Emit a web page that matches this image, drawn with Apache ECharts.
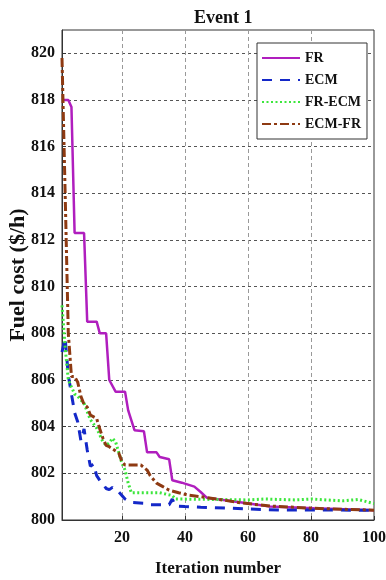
<!DOCTYPE html>
<html>
<head>
<meta charset="utf-8">
<script src="https://cdn.jsdelivr.net/npm/echarts@6/dist/echarts.min.js"></script>
<style>
  html, body { margin: 0; padding: 0; background: #fff; }
  #chart { width: 386px; height: 580px; }
</style>
</head>
<body>
<div id="chart"></div>
<script>
// [iteration, fuel cost]
var frData = [[1, 818.0], [3, 818.0], [4, 817.7], [5, 812.3], [8, 812.3], [9, 808.5], [12, 808.5],
    [13, 808.0], [15, 808.0], [16, 806.0], [18, 805.5], [21, 805.5], [22, 804.7], [24, 803.85],
    [27, 803.8], [28, 802.9], [31, 802.9], [32, 802.7], [35, 802.6], [36, 801.7], [39, 801.6],
    [43, 801.43], [45, 801.2], [47, 800.95], [58, 800.75], [67, 800.58], [81, 800.5], [100, 800.42]];

var ecmData = [[1, 807.2], [2, 807.8], [3, 806.2], [4, 805.4], [5, 804.6], [6, 804.2], [7, 803.4],
    [8, 803.9], [9, 803.0], [10, 802.3], [11, 802.4], [12, 801.9], [13, 801.7], [14, 801.55],
    [15, 801.35], [16, 801.3], [17, 801.4], [18, 801.3], [19, 801.2], [21, 800.9], [23, 800.75],
    [27, 800.72], [29, 800.65], [35, 800.65], [36, 800.9], [37, 800.6], [40, 800.58], [45, 800.55],
    [55, 800.5], [60, 800.47], [70, 800.43], [100, 800.42]];

var frEcmData = [[1, 809.2], [2, 807.4], [3, 806.0], [5, 805.4], [6, 805.3], [8, 805.0], [9, 804.64],
    [10, 804.3], [12, 803.94], [13, 803.64], [14, 803.35], [15, 803.2], [16, 803.3], [17, 803.5],
    [18, 803.35], [19, 802.9], [20, 802.44], [21, 802.14], [22, 801.58], [23, 801.17], [32, 801.17],
    [36, 801.05], [37, 800.9], [50, 800.88], [60, 800.86], [65, 800.9], [75, 800.86], [80, 800.9],
    [90, 800.82], [95, 800.88], [100, 800.7]];

var ecmFrData = [[1, 819.8], [2, 814.0], [3, 808.0], [4, 806.15], [5, 806.15], [6, 805.9], [7, 805.3],
    [8, 804.95], [9, 804.84], [10, 804.5], [12, 804.35], [13, 803.9], [14, 803.5], [15, 803.2],
    [16, 803.14], [19, 802.87], [20, 802.5], [21, 802.36], [26, 802.36], [28, 802.14], [29, 801.9],
    [31, 801.58], [33, 801.43], [35, 801.28], [38, 801.17], [41, 801.07], [45, 801.0], [50, 800.9],
    [58, 800.73], [67, 800.6], [81, 800.5], [100, 800.42]];

var seriesNames = ['FR', 'ECM', 'FR-ECM', 'ECM-FR'];
var xTicks = [20, 40, 60, 80, 100];
var yTicks = [800, 802, 804, 806, 808, 810, 812, 814, 816, 818, 820];

var serif = "'Liberation Serif', 'Times New Roman', serif";
var myChart = echarts.init(document.getElementById('chart'));

var option = {
    backgroundColor: '#fff',
    animation: false,
    title: {
        text: 'Event 1',
        left: 189,
        top: 4,
        textStyle: {fontFamily: serif, fontWeight: 'bold', fontSize: 18, color: '#111'}
    },
    legend: {
        data: seriesNames,
        orient: 'vertical',
        left: 257,
        top: 43,
        backgroundColor: '#fff',
        borderColor: '#333',
        borderWidth: 1,
        padding: [8, 6, 8, 4],
        itemWidth: 38,
        itemHeight: 14,
        itemGap: 8,
        itemStyle: {color: 'rgba(0,0,0,0)', borderWidth: 0, opacity: 0},
        textStyle: {fontFamily: serif, fontWeight: 'bold', fontSize: 14, color: '#111'}
    },
    grid: {
        left: 62, right: 12, top: 30, bottom: 60,
        outerBoundsMode: 'none',
        containLabel: false,
        show: true,
        borderColor: '#333',
        borderWidth: 1
    },
    xAxis: {
        type: 'value',
        min: 1,
        max: 100,
        name: 'Iteration number',
        nameLocation: 'middle',
        nameGap: 40,
        nameMoveOverlap: false,
        nameTextStyle: {fontFamily: serif, fontWeight: 'bold', fontSize: 17, color: '#111'},
        axisLine: {lineStyle: {color: '#333'}},
        axisTick: {inside: true, length: 4, customValues: xTicks, lineStyle: {color: '#333'}},
        axisLabel: {
            customValues: xTicks,
            margin: 10,
            fontFamily: serif, fontWeight: 'bold', fontSize: 16, color: '#111'
        },
        splitLine: {show: true, lineStyle: {color: '#999', type: [4, 3], width: 1}}
    },
    yAxis: {
        type: 'value',
        min: 800,
        max: 821,
        name: 'Fuel cost ($/h)',
        nameLocation: 'middle',
        nameGap: 33,
        nameMoveOverlap: false,
        nameTextStyle: {fontFamily: serif, fontWeight: 'bold', fontSize: 22, color: '#111'},
        axisLine: {show: true, lineStyle: {color: '#333'}},
        axisTick: {show: true, inside: true, length: 4, customValues: yTicks, lineStyle: {color: '#333'}},
        axisLabel: {
            customValues: yTicks,
            margin: 7,
            fontFamily: serif, fontWeight: 'bold', fontSize: 16, color: '#111'
        },
        splitLine: {show: true, lineStyle: {color: '#555', type: [3, 3], width: 1}}
    },
    series: [{
        name: 'FR',
        type: 'line',
        symbol: 'none',
        data: frData,
        itemStyle: {color: '#B01EBE'},
        lineStyle: {color: '#B01EBE', width: 2.5, type: 'solid'}
    }, {
        name: 'ECM',
        type: 'line',
        symbol: 'none',
        data: ecmData,
        itemStyle: {color: '#1428C8'},
        lineStyle: {color: '#1428C8', width: 3, type: [10, 8]}
    }, {
        name: 'FR-ECM',
        type: 'line',
        symbol: 'none',
        data: frEcmData,
        itemStyle: {color: '#3CE63C'},
        lineStyle: {color: '#3CE63C', width: 3, type: [2, 2.5]}
    }, {
        name: 'ECM-FR',
        type: 'line',
        symbol: 'none',
        data: ecmFrData,
        itemStyle: {color: '#8E3A12'},
        lineStyle: {color: '#8E3A12', width: 3, type: [9, 3, 3, 3]}
    }]
};

myChart.setOption(option);
</script>
</body>
</html>
